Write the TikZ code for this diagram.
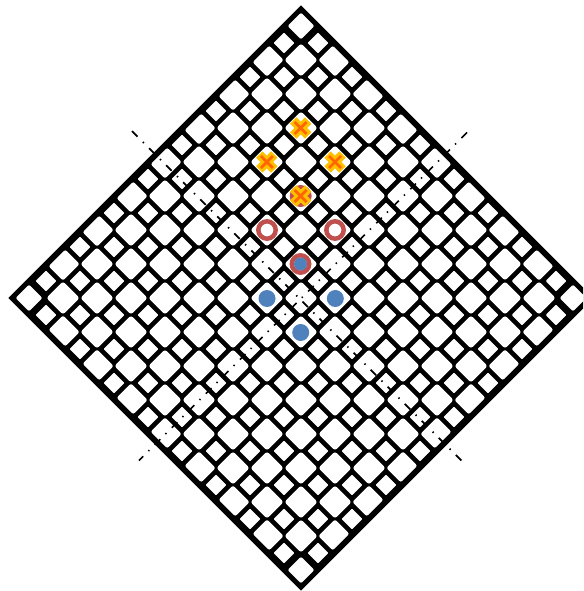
\documentclass[tikz,border=0pt]{standalone}
\definecolor{mkyellow}{RGB}{255,192,0}
\definecolor{mkorange}{RGB}{255,102,0}
\definecolor{mkred}{RGB}{192,80,77}
\definecolor{mkblue}{RGB}{79,129,189}
\tikzset{
  cellbig/.style={fill=white,rounded corners=2.5pt},
  celledge/.style={fill=white,rounded corners=2pt},
  cellsmall/.style={fill=white,rounded corners=1pt},
  axisline/.style={black,line width=1.7pt,dash pattern=on 7.8pt off 7.6pt on 1.4pt off 7.3pt},
  ringmark/.style={draw=mkred,line width=4.5pt,fill=none},
  discmark/.style={fill=mkblue,draw=none},
  crossthick/.style={mkyellow,line width=9pt},
  crossthin/.style={mkorange,line width=2.8pt}
}
% rectangle in lattice axes: centre, extents along -u,+u,-v,+v
\newcommand{\cellshape}[7]{%
  \fill[#1]
    ({#2+((-#4)-(-#6))*0.7071},{#3+((-#4)+(-#6))*0.7071}) --
    ({#2+((#5)-(-#6))*0.7071},{#3+((#5)+(-#6))*0.7071}) --
    ({#2+((#5)-(#7))*0.7071},{#3+((#5)+(#7))*0.7071}) --
    ({#2+((-#4)-(#7))*0.7071},{#3+((-#4)+(#7))*0.7071}) -- cycle;
}
\newcommand{\crossmark}[2]{%
  \draw[crossthick] (#1-7.5,#2-7.5) -- (#1+7.5,#2+7.5) (#1-7.5,#2+7.5) -- (#1+7.5,#2-7.5);
  \draw[crossthin] (#1-6,#2-6) -- (#1+6,#2+6) (#1-6,#2+6) -- (#1+6,#2-6);
}
\begin{document}
\begin{tikzpicture}[x=1pt,y=-1pt]
\useasboundingbox (0,0) rectangle (583,591);
\begin{scope}
\clip (0,0) rectangle (583,591);
% outer body
\fill[black] (301,5.3) -- (593.7,298) -- (301,590.7) -- (8.3,298) -- cycle;
% cells
\foreach \u in {0,...,16}{
  \foreach \v in {0,...,16}{
    \pgfmathsetmacro{\cx}{301+17*(\u-\v)}
    \pgfmathsetmacro{\cy}{26+17*(\u+\v)}
    \pgfmathtruncatemacro{\cellpar}{mod(\u+\v,2)}
    \ifnum\cellpar=1
      \cellshape{cellsmall}{\cx}{\cy}{7.4}{7.4}{7.4}{7.4}
    \else
      \pgfmathtruncatemacro{\isu}{(\u==0)+(\u==16)}
      \pgfmathtruncatemacro{\isv}{(\v==0)+(\v==16)}
      \pgfmathtruncatemacro{\edgecount}{\isu+\isv}
      \ifnum\edgecount=2
        \cellshape{celledge}{\cx}{\cy}{9.5}{9.5}{9.5}{9.5}
      \else\ifnum\edgecount=1
        \pgfmathsetmacro{\um}{\u==0 ? 8.6 : 11.7}
        \pgfmathsetmacro{\up}{\u==16 ? 8.6 : 11.7}
        \pgfmathsetmacro{\vm}{\v==0 ? 8.6 : 11.7}
        \pgfmathsetmacro{\vp}{\v==16 ? 8.6 : 11.7}
        \cellshape{celledge}{\cx}{\cy}{\um}{\up}{\vm}{\vp}
      \else
        \cellshape{cellbig}{\cx}{\cy}{11.7}{11.7}{11.7}{11.7}
      \fi\fi
    \fi
  }
}
% dash-dot axes
\draw[axisline] (132,131.2) -- (463,462.2);
\draw[axisline] (467,132.5) -- (139,460.5);
% markers
\foreach \x/\y in {267/230,335/230,300.5/264,300.7/196}{\draw[ringmark] (\x,\y) circle[radius=8.7];}
\foreach \x/\y in {267/298.5,335.3/298.5,300.7/332.5}{\fill[discmark] (\x,\y) circle[radius=8.5];}
\fill[discmark] (300.5,264) circle[radius=6.5];
\crossmark{300.7}{128}
\crossmark{266.8}{162}
\crossmark{335}{162}
\crossmark{300.7}{196}
\end{scope}
\end{tikzpicture}
\end{document}
